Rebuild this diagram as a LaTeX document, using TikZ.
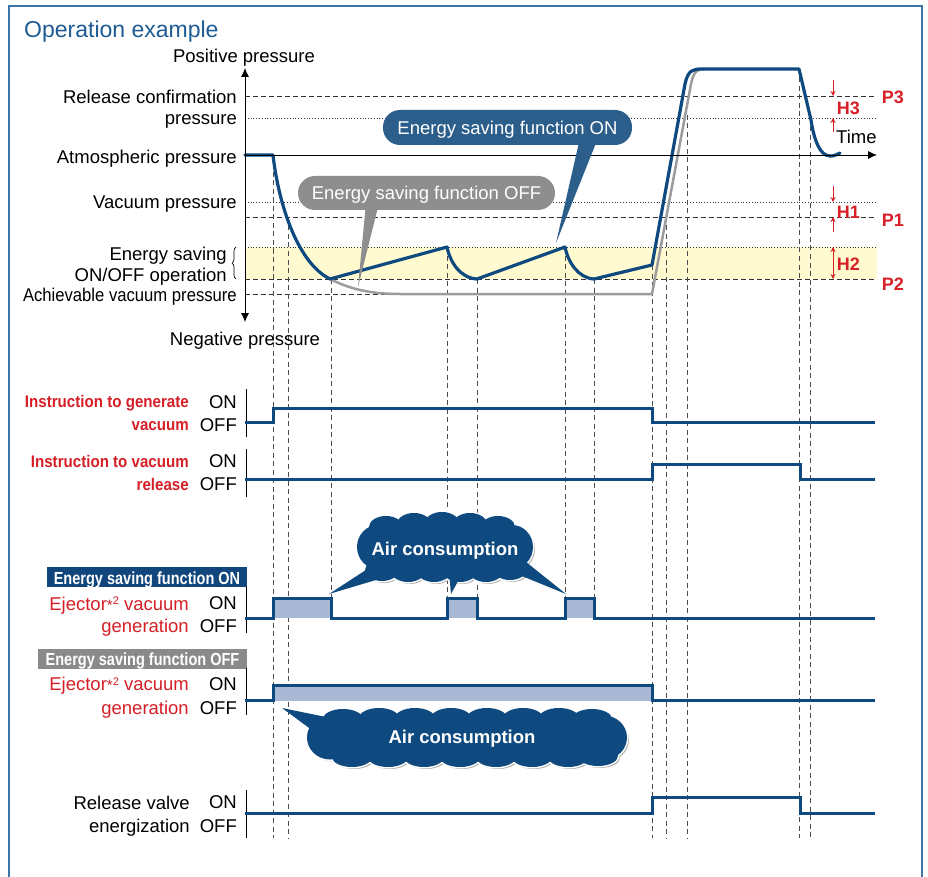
\documentclass[tikz,border=0pt]{standalone}
\usepackage{fontspec}
\setmainfont{Liberation Sans}
\newfontfamily\narrowfont[FakeStretch=0.9]{Liberation Sans}
\newfontfamily\bannerfont[FakeStretch=0.83]{Liberation Sans}
\usetikzlibrary{decorations.pathreplacing,arrows.meta}
\definecolor{navy}{HTML}{0E4A7F}
\definecolor{frameblue}{HTML}{3A74A8}
\definecolor{titleblue}{HTML}{1E5B94}
\definecolor{callon}{HTML}{2B5E8B}
\definecolor{calloff}{HTML}{8E8E8E}
\definecolor{greycurve}{HTML}{9C9C9C}
\definecolor{pulsefill}{HTML}{A9B8D5}
\definecolor{bandyellow}{HTML}{FFFACF}
\definecolor{labred}{HTML}{D61F26}
\definecolor{banneron}{HTML}{10467C}
\definecolor{banneroff}{HTML}{8A8A8A}
\newcommand\cloudone[2]{%
  \fill[#1] (377,524) rectangle (513,571);
  \foreach \cx/\cy in {386/527, 414/524, 442/523, 470/524, 498/527,
      382/570, 408/571, 434/571, 460/571, 486/571, 510/569}
    {\fill[#1] (\cx,\cy) ellipse[x radius=17+#2, y radius=11+#2];}
  \fill[#1] (378,547) ellipse[x radius=21+#2, y radius=22+#2];
  \fill[#1] (512,547) ellipse[x radius=21+#2, y radius=22+#2];
}
\newcommand\cloudtwo[2]{%
  \fill[#1] (330,718) rectangle (604,757);
  \foreach \cx/\cy in {343/719, 379/718, 415/718, 451/718, 487/718, 523/718, 559/718, 592/719,
      352/757, 388/757, 424/757, 460/757, 496/757, 532/757, 568/757, 598/756}
    {\fill[#1] (\cx,\cy) ellipse[x radius=20+#2, y radius=10+#2];}
  \fill[#1] (330,737.5) ellipse[x radius=23+#2, y radius=22+#2];
  \fill[#1] (604,737.5) ellipse[x radius=23+#2, y radius=22+#2];
}
\begin{document}
\begin{tikzpicture}[x=1pt,y=-1pt,
  lab/.style={inner sep=0pt, font=\fontsize{18.5}{21}\selectfont},
  redlab/.style={inner sep=0pt, text=labred, font=\narrowfont\bfseries\fontsize{16.8}{19}\selectfont},
  ejlab/.style={inner sep=0pt, text=labred, font=\fontsize{18.5}{21}\selectfont},
  plab/.style={inner sep=0pt, text=labred, font=\bfseries\fontsize{18}{20}\selectfont},
  hdash/.style={draw=black!80, line width=0.8pt, dash pattern=on 5pt off 3pt},
  hdot/.style={draw=black!80, line width=0.8pt, dash pattern=on 1pt off 1.8pt},
  vdash/.style={draw=black!70, line width=0.9pt, dash pattern=on 5pt off 3.5pt},
  sig/.style={draw=navy, line width=3pt},
  bluecurve/.style={draw=navy, line width=3.2pt, line join=round, line cap=round},
  greyline/.style={draw=greycurve, line width=2.5pt, line join=round},
  pulse/.style={fill=pulsefill},
  tickline/.style={draw=black, line width=0.8pt},
  harrow/.style={draw=labred, line width=0.9pt, -{Stealth[length=5pt,width=5pt]}},
  pill/.style={rounded corners=17pt, inner sep=0pt},
  pilltext/.style={inner sep=0pt, text=white, font=\fontsize{18.5}{21}\selectfont},
  airtext/.style={inner sep=0pt, text=white, font=\bfseries\fontsize{18.5}{21}\selectfont},
  bannertext/.style={inner sep=0pt, text=white, font=\bannerfont\bfseries\fontsize{17.5}{20}\selectfont},
]
\useasboundingbox (0,0) rectangle (928,877);
\fill[white] (0,0) rectangle (928,877);
% frame and title
\draw[frameblue, line width=1.2pt] (9,877) -- (9,6) -- (922,6) -- (922,877);
\node[inner sep=0pt, anchor=base west, text=titleblue, font=\fontsize{23}{26}\selectfont] (title) at (24,37.3) {Operation example};

% yellow band and horizontal guide lines
\fill[bandyellow] (245,247) rectangle (877,279);
\draw[hdash] (245,96) -- (877,96);
\draw[hdot] (245,118) -- (877,118);
\draw[hdot] (245,202) -- (877,202);
\draw[hdash] (245,217) -- (877,217);
\draw[hdot] (245,247) -- (877,247);
\draw[hdash] (245,279) -- (877,279);
\draw[hdash] (245,294) -- (652,294);

% vertical dashed timing lines
\foreach \x/\y in {273/155, 288/217, 652/265, 666/217, 687/115, 799/69, 810/118}
  \draw[vdash] (\x,\y) -- (\x,838);
\foreach \x/\y in {331/279, 447/247, 477/279, 565/247, 594/279}
  \draw[vdash] (\x,\y) -- (\x,598);

% pressure curves
\draw[greyline] (330,279) .. controls (350,289) and (370,294) .. (400,294) -- (652,294)
  -- (691,84) .. controls (694,71) and (697,69) .. (705,69);
\draw[bluecurve] (245,155) -- (273,155) .. controls (278,200) and (296,262) .. (330,279)
  -- (447,247) .. controls (450,262) and (460,278) .. (477,279)
  -- (565,247) .. controls (568,262) and (578,278) .. (594,279)
  -- (652,265) -- (685,84) .. controls (688,70) and (693,69) .. (702,69)
  -- (799,69) -- (811,120) .. controls (814,140) and (820,156) .. (830,156)
  .. controls (834,156.5) and (837,154) .. (840,153);

% axes
\draw[line width=0.8pt, {Latex[length=9pt,width=8pt]}-{Latex[length=9pt,width=8pt]}] (245,68) -- (245,322);
\draw[line width=0.8pt, -{Latex[length=9pt,width=8pt]}] (245,155) -- (877,155);

% callouts
\coordinate (tipon) at (556,243);
\coordinate (tipoff) at (358,287);
\fill[callon] (580,138) -- (tipon) -- (598,138) -- cycle;
\node[pill, fill=callon, minimum width=249pt, minimum height=35pt] (pon) at (507.5,127.5) {};
\node[pilltext, anchor=base] (pontext) at (507.5,135) {Energy saving function ON};
\fill[calloff] (366,203) -- (tipoff) -- (379,203) -- cycle;
\node[pill, fill=calloff, minimum width=257pt, minimum height=34pt] (poff) at (426.5,193) {};
\node[pilltext, anchor=base] (pofftext) at (426.5,199.3) {Energy saving function OFF};

% axis labels
\node[lab, anchor=base] (lpos) at (244,62.5) {Positive pressure};
\node[lab, anchor=base east] (lrc1) at (237,103.3) {Release confirmation};
\node[lab, anchor=base east] (lrc2) at (237,125) {pressure};
\node[lab, anchor=base east] (latm) at (237,163.3) {Atmospheric pressure};
\node[lab, anchor=base east] (lvac) at (237,208.3) {Vacuum pressure};
\node[lab, anchor=base east] (les1) at (227,260) {Energy saving};
\node[lab, anchor=base east] (les2) at (227,281.7) {ON/OFF operation};
\draw[line width=0.7pt, decorate, decoration={brace, amplitude=4pt}] (236,279) -- (236,247);
\node[lab, font=\narrowfont\fontsize{18.5}{21}\selectfont, anchor=base east] (lach) at (237,301.7) {Achievable vacuum pressure};
\node[lab, anchor=base] (lneg) at (245,345) {Negative pressure};
\node[lab, anchor=base west] (ltime) at (836,143.3) {Time};

% hysteresis marks
\draw[harrow] (833,80) -- (833,96);
\draw[harrow] (833,132) -- (833,118);
\draw[harrow] (833,186) -- (833,202);
\draw[harrow] (833,232) -- (833,217);
\draw[draw=labred, line width=0.9pt, {Stealth[length=5pt,width=5pt]}-{Stealth[length=5pt,width=5pt]}] (833,247) -- (833,279);
\node[plab, anchor=base west] (p3) at (881.7,103.3) {P3};
\node[plab, anchor=base west] (h3) at (836.7,115) {H3};
\node[plab, anchor=base west] (h1) at (836.7,218.3) {H1};
\node[plab, anchor=base west] (p1) at (881.7,226.7) {P1};
\node[plab, anchor=base west] (h2) at (836.7,270) {H2};
\node[plab, anchor=base west] (p2) at (881.7,290) {P2};

% timing row 1: instruction to generate vacuum
\draw[tickline] (246,389) -- (246,437);
\draw[sig] (245,422) -- (273,422) -- (273,408) -- (652,408) -- (652,422) -- (875,422);
\node[redlab, anchor=base east] (r1a) at (189,407.3) {Instruction to generate};
\node[redlab, anchor=base east] (r1b) at (189,430) {vacuum};
\node[lab, anchor=base east] (r1on) at (237,408.3) {ON};
\node[lab, anchor=base east] (r1off) at (237,431.7) {OFF};

% timing row 2: instruction to vacuum release
\draw[tickline] (246,449) -- (246,497);
\draw[sig] (245,479) -- (652,479) -- (652,464) -- (800,464) -- (800,479) -- (875,479);
\node[redlab, anchor=base east] (r2a) at (189,467.3) {Instruction to vacuum};
\node[redlab, anchor=base east] (r2b) at (189,490) {release};
\node[lab, anchor=base east] (r2on) at (237,467.3) {ON};
\node[lab, anchor=base east] (r2off) at (237,490) {OFF};

% energy saving ON: ejector
\node[fill=banneron, inner sep=0pt, minimum width=200pt, minimum height=20pt, anchor=north west] (banon) at (47,567) {};
\node[bannertext, anchor=base] (banontext) at (147,584.5) {Energy saving function ON};
\draw[tickline] (246,587) -- (246,633);
\fill[pulse] (273,598) rectangle (331,618);
\fill[pulse] (447,598) rectangle (477,618);
\fill[pulse] (565,598) rectangle (594,618);
\draw[sig] (245,618) -- (273,618) -- (273,598) -- (331,598) -- (331,618) -- (447,618) -- (447,598)
  -- (477,598) -- (477,618) -- (565,618) -- (565,598) -- (594,598) -- (594,618) -- (875,618);
\node[ejlab, anchor=base east] (r3a) at (189,610) {Ejector{\fontsize{15}{15}\selectfont *\raisebox{5.5pt}{\fontsize{11}{11}\selectfont 2}} vacuum};
\node[ejlab, anchor=base east] (r3b) at (189,632.7) {generation};
\node[lab, anchor=base east] (r3on) at (237,609.3) {ON};
\node[lab, anchor=base east] (r3off) at (237,632.7) {OFF};

% energy saving OFF: ejector
\node[fill=banneroff, inner sep=0pt, minimum width=209pt, minimum height=20pt, anchor=north west] (banoff) at (38,648.3) {};
\node[bannertext, anchor=base] (banofftext) at (142.5,665.8) {Energy saving function OFF};
\draw[tickline] (246,668) -- (246,715);
\fill[pulse] (273,685) rectangle (652,701);
\draw[sig] (245,700) -- (273,700) -- (273,685) -- (652,685) -- (652,700) -- (875,700);
\node[ejlab, anchor=base east] (r4a) at (189,690.7) {Ejector{\fontsize{15}{15}\selectfont *\raisebox{5.5pt}{\fontsize{11}{11}\selectfont 2}} vacuum};
\node[ejlab, anchor=base east] (r4b) at (189,714) {generation};
\node[lab, anchor=base east] (r4on) at (237,690.7) {ON};
\node[lab, anchor=base east] (r4off) at (237,714) {OFF};

% release valve energization
\draw[tickline] (246,790) -- (246,838);
\draw[sig] (245,813) -- (652,813) -- (652,797) -- (800,797) -- (800,813) -- (875,813);
\node[lab, anchor=base east] (r5a) at (190,809.3) {Release valve};
\node[lab, anchor=base east] (r5b) at (190,832.7) {energization};
\node[lab, anchor=base east] (r5on) at (237,808.3) {ON};
\node[lab, anchor=base east] (r5off) at (237,832.7) {OFF};

% air consumption clouds
\coordinate (t1) at (329,594);
\coordinate (t2) at (451,594);
\coordinate (t3) at (566,594);
\coordinate (t4) at (282,708);
\cloudone{black!30, shift={(2,2)}}{0}
\cloudone{white}{1.5}
\fill[navy] (372,566) -- (t1) -- (386,577) -- cycle;
\fill[navy] (449,572) -- (t2) -- (463,572) -- cycle;
\fill[navy] (512,572) -- (t3) -- (526,562) -- cycle;
\cloudone{navy}{0}
\node[airtext, anchor=base] (cl1text) at (445,555.7) {Air consumption};
\cloudtwo{black!30, shift={(2,2)}}{0}
\cloudtwo{white}{1.5}
\fill[navy] (316,733) -- (t4) -- (326,717) -- cycle;
\cloudtwo{navy}{0}
\node[airtext, anchor=base] (cl2text) at (462,743.3) {Air consumption};
\end{tikzpicture}
\end{document}
